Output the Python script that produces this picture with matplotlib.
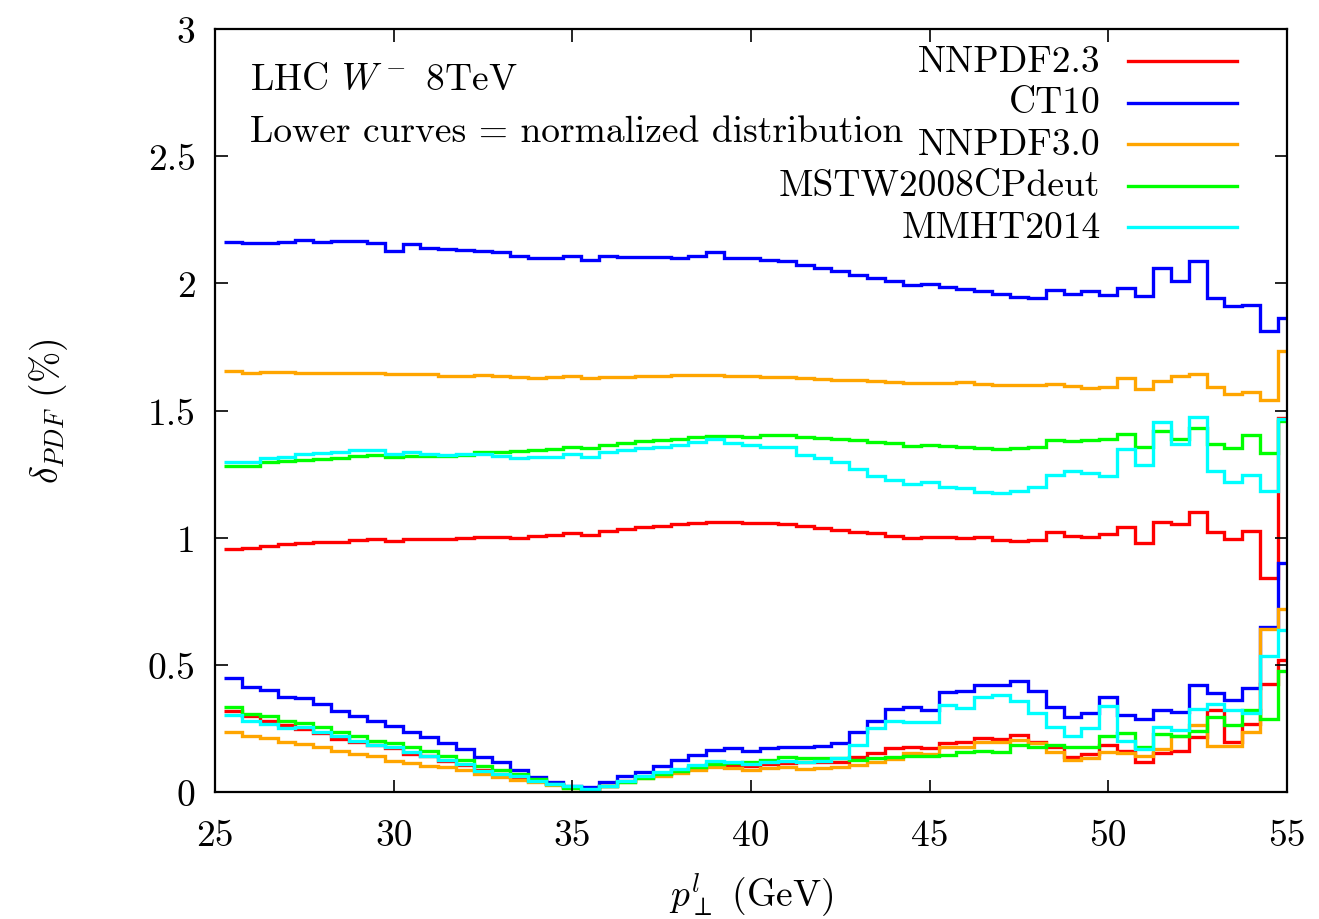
import numpy as np
import matplotlib
matplotlib.use("Agg")
import matplotlib.pyplot as plt

plt.rcParams['font.family'] = ['cmr10', 'DejaVu Serif']
plt.rcParams['mathtext.fontset'] = 'cm'
plt.rcParams['axes.unicode_minus'] = False
plt.rcParams['axes.formatter.use_mathtext'] = True

# --- données : 60 bins de 0.5 GeV (bords 25.25 ... 55.25) ---
bin_edges = 25.25 + 0.5 * np.arange(61)

pdf_names = ["NNPDF2.3", "CT10", "NNPDF3.0", "MSTW2008CPdeut", "MMHT2014"]
pdf_colors = ["#ff0000", "#0000ff", "#ffa500", "#00ff00", "#00ffff"]

# courbes du haut : distribution absolue
nnpdf23_abs = [0.957, 0.959, 0.969, 0.974, 0.978, 0.982, 0.984, 0.992, 0.996, 0.987,
               0.995, 0.993, 0.993, 0.997, 1.001, 1.001, 1.000, 1.008, 1.012, 1.018,
               1.012, 1.028, 1.034, 1.041, 1.045, 1.054, 1.059, 1.063, 1.060, 1.056,
               1.058, 1.054, 1.046, 1.037, 1.029, 1.024, 1.018, 1.008, 1.000, 1.004,
               1.001, 0.997, 1.004, 0.991, 0.986, 0.992, 1.021, 1.005, 1.001, 1.014,
               1.041, 0.979, 1.060, 1.054, 1.100, 1.021, 0.995, 1.028, 0.841, 1.470]
ct10_abs = [2.164, 2.158, 2.160, 2.164, 2.169, 2.164, 2.168, 2.167, 2.159, 2.128,
            2.153, 2.139, 2.134, 2.130, 2.127, 2.122, 2.106, 2.101, 2.100, 2.106,
            2.090, 2.106, 2.105, 2.102, 2.102, 2.100, 2.109, 2.123, 2.098, 2.100,
            2.090, 2.087, 2.072, 2.062, 2.049, 2.033, 2.021, 2.008, 1.993, 1.997,
            1.984, 1.978, 1.971, 1.958, 1.945, 1.941, 1.975, 1.957, 1.969, 1.954,
            1.982, 1.952, 2.060, 2.009, 2.087, 1.942, 1.912, 1.916, 1.811, 1.864]
nnpdf30_abs = [1.654, 1.647, 1.650, 1.650, 1.647, 1.647, 1.646, 1.647, 1.647, 1.642,
               1.644, 1.642, 1.637, 1.637, 1.638, 1.637, 1.630, 1.629, 1.632, 1.636,
               1.628, 1.633, 1.633, 1.637, 1.637, 1.638, 1.640, 1.641, 1.637, 1.634,
               1.633, 1.633, 1.629, 1.625, 1.620, 1.619, 1.617, 1.613, 1.607, 1.608,
               1.608, 1.611, 1.605, 1.601, 1.599, 1.600, 1.605, 1.595, 1.590, 1.594,
               1.626, 1.583, 1.616, 1.637, 1.645, 1.594, 1.564, 1.571, 1.540, 1.735]
mstw_abs = [1.280, 1.283, 1.296, 1.300, 1.304, 1.309, 1.315, 1.320, 1.324, 1.317,
            1.321, 1.320, 1.320, 1.325, 1.337, 1.338, 1.339, 1.346, 1.349, 1.358,
            1.354, 1.364, 1.372, 1.381, 1.385, 1.389, 1.394, 1.401, 1.400, 1.396,
            1.404, 1.402, 1.397, 1.393, 1.388, 1.383, 1.376, 1.371, 1.362, 1.366,
            1.362, 1.358, 1.354, 1.349, 1.354, 1.358, 1.385, 1.379, 1.384, 1.388,
            1.408, 1.358, 1.421, 1.388, 1.430, 1.370, 1.351, 1.405, 1.334, 1.460]
mmht_abs = [1.299, 1.299, 1.312, 1.317, 1.329, 1.332, 1.336, 1.343, 1.343, 1.330,
            1.338, 1.329, 1.326, 1.328, 1.330, 1.320, 1.315, 1.317, 1.318, 1.330,
            1.317, 1.336, 1.343, 1.351, 1.358, 1.364, 1.375, 1.387, 1.371, 1.364,
            1.358, 1.355, 1.326, 1.312, 1.296, 1.270, 1.244, 1.225, 1.211, 1.218,
            1.198, 1.197, 1.178, 1.176, 1.183, 1.201, 1.246, 1.261, 1.253, 1.244,
            1.349, 1.286, 1.453, 1.368, 1.476, 1.262, 1.220, 1.248, 1.185, 1.467]

# courbes du bas : distribution normalisée
nnpdf23_norm = [0.318, 0.297, 0.280, 0.262, 0.248, 0.232, 0.208, 0.198, 0.185, 0.172,
                0.149, 0.140, 0.123, 0.108, 0.087, 0.072, 0.060, 0.045, 0.030, 0.020,
                0.012, 0.025, 0.042, 0.058, 0.072, 0.085, 0.095, 0.105, 0.101, 0.101,
                0.112, 0.115, 0.117, 0.118, 0.119, 0.136, 0.153, 0.172, 0.176, 0.172,
                0.193, 0.198, 0.211, 0.208, 0.224, 0.198, 0.176, 0.136, 0.149, 0.186,
                0.163, 0.117, 0.153, 0.163, 0.218, 0.324, 0.198, 0.267, 0.425, 0.520]
ct10_norm = [0.447, 0.414, 0.401, 0.372, 0.368, 0.346, 0.320, 0.300, 0.280, 0.261,
             0.235, 0.215, 0.193, 0.169, 0.136, 0.117, 0.087, 0.060, 0.038, 0.025,
             0.021, 0.038, 0.064, 0.080, 0.101, 0.127, 0.147, 0.165, 0.172, 0.163,
             0.172, 0.178, 0.176, 0.182, 0.193, 0.235, 0.280, 0.326, 0.333, 0.324,
             0.392, 0.396, 0.422, 0.422, 0.438, 0.396, 0.333, 0.296, 0.309, 0.372,
             0.304, 0.287, 0.324, 0.316, 0.422, 0.388, 0.363, 0.411, 0.647, 0.900]
nnpdf30_norm = [0.237, 0.222, 0.212, 0.195, 0.189, 0.176, 0.160, 0.149, 0.140, 0.123,
                0.114, 0.104, 0.097, 0.087, 0.071, 0.058, 0.049, 0.038, 0.029, 0.016,
                0.005, 0.025, 0.041, 0.054, 0.064, 0.075, 0.087, 0.097, 0.093, 0.088,
                0.093, 0.097, 0.090, 0.094, 0.100, 0.107, 0.117, 0.130, 0.153, 0.149,
                0.176, 0.176, 0.195, 0.195, 0.204, 0.191, 0.159, 0.126, 0.133, 0.156,
                0.153, 0.143, 0.169, 0.220, 0.263, 0.182, 0.182, 0.235, 0.641, 0.720]
mstw_norm = [0.333, 0.307, 0.298, 0.280, 0.271, 0.254, 0.237, 0.219, 0.202, 0.191,
             0.176, 0.163, 0.143, 0.127, 0.104, 0.087, 0.071, 0.051, 0.031, 0.014,
             0.009, 0.025, 0.038, 0.054, 0.071, 0.084, 0.097, 0.110, 0.114, 0.117,
             0.127, 0.136, 0.134, 0.134, 0.134, 0.127, 0.134, 0.139, 0.140, 0.143,
             0.146, 0.159, 0.160, 0.156, 0.185, 0.176, 0.185, 0.178, 0.178, 0.220,
             0.232, 0.176, 0.228, 0.219, 0.241, 0.294, 0.263, 0.324, 0.287, 0.477]
mmht_norm = [0.303, 0.280, 0.267, 0.250, 0.254, 0.235, 0.221, 0.202, 0.185, 0.176,
             0.156, 0.143, 0.126, 0.110, 0.084, 0.071, 0.062, 0.045, 0.031, 0.025,
             0.012, 0.025, 0.045, 0.064, 0.080, 0.090, 0.106, 0.123, 0.117, 0.110,
             0.119, 0.121, 0.117, 0.123, 0.132, 0.185, 0.250, 0.280, 0.277, 0.274,
             0.343, 0.330, 0.372, 0.381, 0.359, 0.311, 0.254, 0.222, 0.250, 0.339,
             0.202, 0.170, 0.257, 0.244, 0.326, 0.346, 0.322, 0.311, 0.536, 0.638]

abs_curves = [nnpdf23_abs, ct10_abs, nnpdf30_abs, mstw_abs, mmht_abs]
norm_curves = [nnpdf23_norm, ct10_norm, nnpdf30_norm, mstw_norm, mmht_norm]

x_ticks = [25, 30, 35, 40, 45, 50, 55]
y_ticks = [0, 0.5, 1, 1.5, 2, 2.5, 3]
y_tick_labels = ["0", "0.5", "1", "1.5", "2", "2.5", "3"]

fs = 27

# --- figure ---
fig = plt.figure(figsize=(13.19, 9.20), dpi=100)
ax = fig.add_axes([0.163, 0.138, 0.8127, 0.8294])

for vals, col in zip(abs_curves, pdf_colors):
    ax.stairs(vals, bin_edges, baseline=None, color=col, linewidth=2.4)
for vals, col in zip(norm_curves, pdf_colors):
    ax.stairs(vals, bin_edges, baseline=None, color=col, linewidth=2.4)

ax.set_xlim(25, 55)
ax.set_ylim(0, 3)
ax.set_xticks(x_ticks)
ax.set_xticklabels([str(t) for t in x_ticks])
ax.set_yticks(y_ticks)
ax.set_yticklabels(y_tick_labels)
ax.tick_params(direction='in', top=True, right=True, length=9, width=1.2,
               labelsize=fs)
ax.tick_params(axis='y', pad=14)
ax.tick_params(axis='x', pad=19)
for s in ax.spines.values():
    s.set_linewidth(1.6)

ax.set_xlabel(r"$p_\perp^l$ (GeV)", fontsize=fs, labelpad=14)
ax.set_ylabel(r"$\delta_{PDF}$ (%)", fontsize=fs, labelpad=56)

# textes en haut à gauche
ax.text(0.033, 0.934, r"LHC $W^-$ 8TeV", transform=ax.transAxes,
        fontsize=fs, va='center', ha='left')
ax.text(0.033, 0.866, "Lower curves = normalized distribution",
        transform=ax.transAxes, fontsize=fs, va='center', ha='left')

# légende façon gnuplot (texte aligné à droite, trait à droite)
for i, (name, col) in enumerate(zip(pdf_names, pdf_colors)):
    yy = 0.958 - i * 0.0544
    ax.text(0.826, yy, name, transform=ax.transAxes, fontsize=fs,
            ha='right', va='center')
    ax.plot([0.852, 0.953], [yy, yy], transform=ax.transAxes,
            color=col, linewidth=2.4)

fig.savefig("out.png", dpi=100)
